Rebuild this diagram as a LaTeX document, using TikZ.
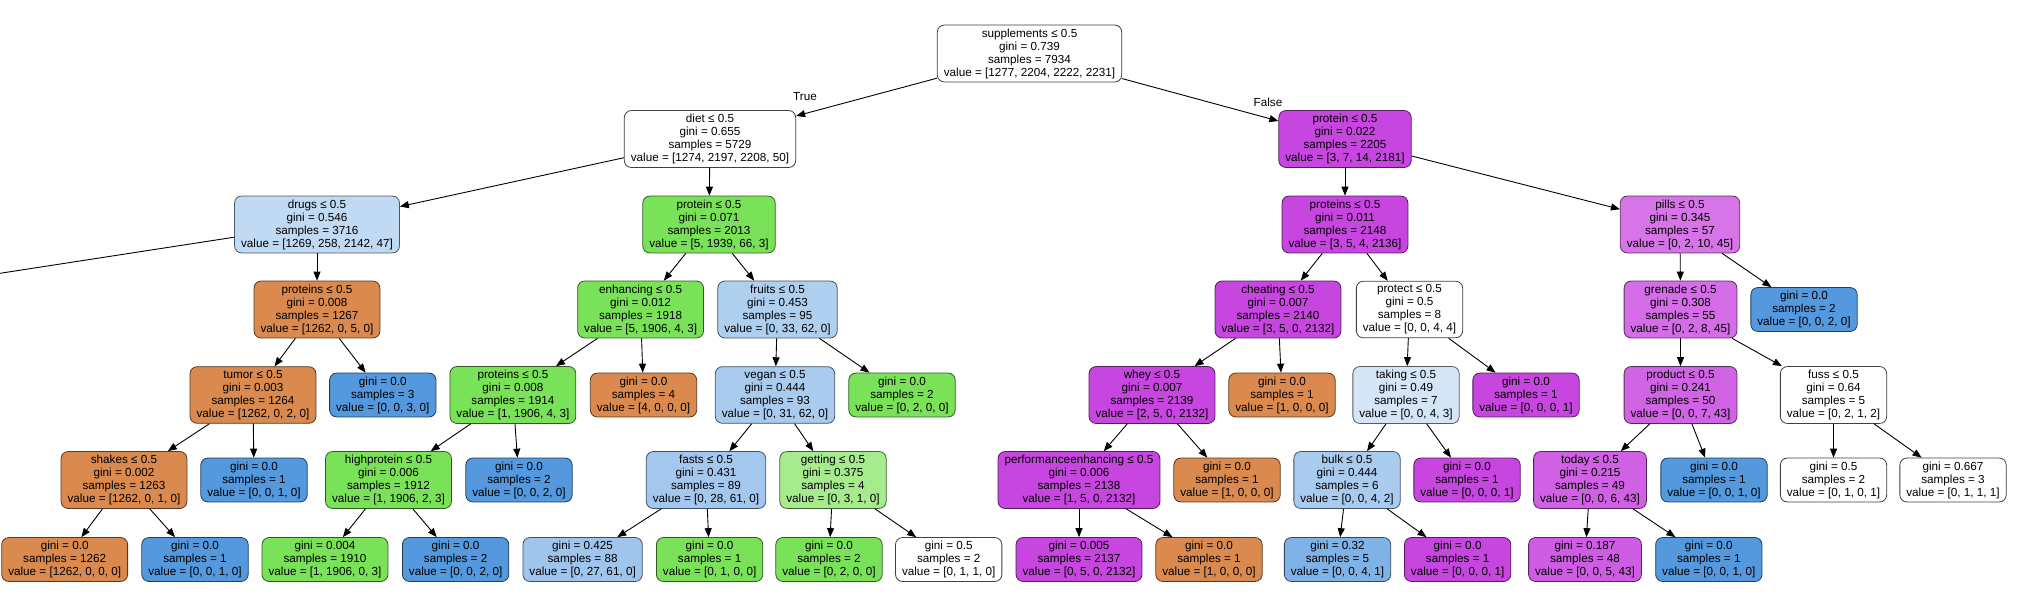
\documentclass[tikz,border=0pt]{standalone}
\usepackage{fontspec}
\setmainfont{Liberation Sans}
\usetikzlibrary{arrows.meta}
\definecolor{cor}{RGB}{218,138,78}
\definecolor{cgr}{RGB}{122,226,88}
\definecolor{cbl}{RGB}{84,152,222}
\definecolor{cpu}{RGB}{200,70,224}
\begin{document}
\begin{tikzpicture}[x=1pt,y=-1pt,
  tn/.style={line width=0.8pt, rounded corners=7pt, align=center,
    inner xsep=6.5pt, inner ysep=3.5pt, font=\fontsize{11.7}{13}\selectfont},
  fc/.style={tn, fill=#1, draw=#1!40!black},
  wh/.style={tn, fill=white, draw=black!75},
  og/.style={fc=cor},
  gr/.style={fc=cgr},
  bl/.style={fc=cbl},
  pu/.style={fc=cpu},
  edge/.style={line width=0.9pt, -{Triangle[length=9pt,width=7pt]}},
  lab/.style={font=\fontsize{11.7}{13}\selectfont, inner sep=0pt}]
\useasboundingbox (0,0) rectangle (2036,610);
% level 0
\node[wh] (n0) at (1029.5,53.5) {supplements ≤ 0.5\\gini = 0.739\\samples = 7934\\value = [1277, 2204, 2222, 2231]};
% level 1
\node[wh] (diet) at (710,139) {diet ≤ 0.5\\gini = 0.655\\samples = 5729\\value = [1274, 2197, 2208, 50]};
\node[pu] (pro1) at (1345,139) {protein ≤ 0.5\\gini = 0.022\\samples = 2205\\value = [3, 7, 14, 2181]};
% level 2
\node[fc=cbl!36!white] (drugs) at (317,224.5) {drugs ≤ 0.5\\gini = 0.546\\samples = 3716\\value = [1269, 258, 2142, 47]};
\node[gr] (protG) at (709,224.5) {protein ≤ 0.5\\gini = 0.071\\samples = 2013\\value = [5, 1939, 66, 3]};
\node[pu] (prots) at (1345,224.5) {proteins ≤ 0.5\\gini = 0.011\\samples = 2148\\value = [3, 5, 4, 2136]};
\node[fc=cpu!75!white] (pills) at (1680,224.5) {pills ≤ 0.5\\gini = 0.345\\samples = 57\\value = [0, 2, 10, 45]};
\coordinate (offleft) at (0,273.3);
% level 3
\node[og] (protsO) at (317,309.5) {proteins ≤ 0.5\\gini = 0.008\\samples = 1267\\value = [1262, 0, 5, 0]};
\node[gr] (enh) at (640.6,309.5) {enhancing ≤ 0.5\\gini = 0.012\\samples = 1918\\value = [5, 1906, 4, 3]};
\node[fc=cbl!47!white] (fruits) at (777.5,309.5) {fruits ≤ 0.5\\gini = 0.453\\samples = 95\\value = [0, 33, 62, 0]};
\node[pu] (cheat) at (1278,309.5) {cheating ≤ 0.5\\gini = 0.007\\samples = 2140\\value = [3, 5, 0, 2132]};
\node[wh] (protect) at (1409.5,309.5) {protect ≤ 0.5\\gini = 0.5\\samples = 8\\value = [0, 0, 4, 4]};
\node[fc=cpu!79!white] (grenade) at (1680.5,309.5) {grenade ≤ 0.5\\gini = 0.308\\samples = 55\\value = [0, 2, 8, 45]};
\node[bl] (leafA) at (1804,309.5) {gini = 0.0\\samples = 2\\value = [0, 0, 2, 0]};
% level 4
\node[og] (tumor) at (253,395) {tumor ≤ 0.5\\gini = 0.003\\samples = 1264\\value = [1262, 0, 2, 0]};
\node[bl] (leafB) at (382.8,395) {gini = 0.0\\samples = 3\\value = [0, 0, 3, 0]};
\node[gr] (protsG) at (512.9,395) {proteins ≤ 0.5\\gini = 0.008\\samples = 1914\\value = [1, 1906, 4, 3]};
\node[og] (leafC) at (643.5,395) {gini = 0.0\\samples = 4\\value = [4, 0, 0, 0]};
\node[fc=cbl!50!white] (vegan) at (775,395) {vegan ≤ 0.5\\gini = 0.444\\samples = 93\\value = [0, 31, 62, 0]};
\node[gr] (leafD) at (902,395) {gini = 0.0\\samples = 2\\value = [0, 2, 0, 0]};
\node[pu] (whey) at (1152,395) {whey ≤ 0.5\\gini = 0.007\\samples = 2139\\value = [2, 5, 0, 2132]};
\node[og] (leafE) at (1282,395) {gini = 0.0\\samples = 1\\value = [1, 0, 0, 0]};
\node[fc=cbl!25!white] (taking) at (1406,395) {taking ≤ 0.5\\gini = 0.49\\samples = 7\\value = [0, 0, 4, 3]};
\node[pu] (leafF) at (1526,395) {gini = 0.0\\samples = 1\\value = [0, 0, 0, 1]};
\node[fc=cpu!84!white] (product) at (1680.5,395) {product ≤ 0.5\\gini = 0.241\\samples = 50\\value = [0, 0, 7, 43]};
\node[wh] (fuss) at (1833.5,395) {fuss ≤ 0.5\\gini = 0.64\\samples = 5\\value = [0, 2, 1, 2]};
% level 5
\node[og] (shakes) at (124,480) {shakes ≤ 0.5\\gini = 0.002\\samples = 1263\\value = [1262, 0, 1, 0]};
\node[bl] (leafG) at (254,480) {gini = 0.0\\samples = 1\\value = [0, 0, 1, 0]};
\node[gr] (highp) at (388.5,480) {highprotein ≤ 0.5\\gini = 0.006\\samples = 1912\\value = [1, 1906, 2, 3]};
\node[bl] (leafH) at (519,480) {gini = 0.0\\samples = 2\\value = [0, 0, 2, 0]};
\node[fc=cbl!54!white] (fasts) at (706,480) {fasts ≤ 0.5\\gini = 0.431\\samples = 89\\value = [0, 28, 61, 0]};
\node[fc=cgr!67!white] (getting) at (833,480) {getting ≤ 0.5\\gini = 0.375\\samples = 4\\value = [0, 3, 1, 0]};
\node[pu] (perf) at (1079,480) {performanceenhancing ≤ 0.5\\gini = 0.006\\samples = 2138\\value = [1, 5, 0, 2132]};
\node[og] (leafI) at (1227,480) {gini = 0.0\\samples = 1\\value = [1, 0, 0, 0]};
\node[fc=cbl!50!white] (bulk) at (1347,480) {bulk ≤ 0.5\\gini = 0.444\\samples = 6\\value = [0, 0, 4, 2]};
\node[pu] (leafJ) at (1467,480) {gini = 0.0\\samples = 1\\value = [0, 0, 0, 1]};
\node[fc=cpu!86!white] (today) at (1590,480) {today ≤ 0.5\\gini = 0.215\\samples = 49\\value = [0, 0, 6, 43]};
\node[bl] (leafK) at (1714,480) {gini = 0.0\\samples = 1\\value = [0, 0, 1, 0]};
\node[wh] (leafL) at (1833.5,480) {gini = 0.5\\samples = 2\\value = [0, 1, 0, 1]};
\node[wh] (leafM) at (1953,480) {gini = 0.667\\samples = 3\\value = [0, 1, 1, 1]};
% level 6
\node[og] (b1) at (64.7,559.5) {gini = 0.0\\samples = 1262\\value = [1262, 0, 0, 0]};
\node[bl] (b2) at (195,559.5) {gini = 0.0\\samples = 1\\value = [0, 0, 1, 0]};
\node[gr] (b3) at (325,559.5) {gini = 0.004\\samples = 1910\\value = [1, 1906, 0, 3]};
\node[bl] (b4) at (455.6,559.5) {gini = 0.0\\samples = 2\\value = [0, 0, 2, 0]};
\node[fc=cbl!56!white] (b5) at (582.6,559.5) {gini = 0.425\\samples = 88\\value = [0, 27, 61, 0]};
\node[gr] (b6) at (709.6,559.5) {gini = 0.0\\samples = 1\\value = [0, 1, 0, 0]};
\node[gr] (b7) at (829,559.5) {gini = 0.0\\samples = 2\\value = [0, 2, 0, 0]};
\node[wh] (b8) at (948.7,559.5) {gini = 0.5\\samples = 2\\value = [0, 1, 1, 0]};
\node[pu] (b9) at (1079,559.5) {gini = 0.005\\samples = 2137\\value = [0, 5, 0, 2132]};
\node[og] (b10) at (1209,559.5) {gini = 0.0\\samples = 1\\value = [1, 0, 0, 0]};
\node[fc=cbl!75!white] (b11) at (1337.5,559.5) {gini = 0.32\\samples = 5\\value = [0, 0, 4, 1]};
\node[pu] (b12) at (1457.6,559.5) {gini = 0.0\\samples = 1\\value = [0, 0, 0, 1]};
\node[fc=cpu!88!white] (b13) at (1585,559.5) {gini = 0.187\\samples = 48\\value = [0, 0, 5, 43]};
\node[bl] (b14) at (1708.8,559.5) {gini = 0.0\\samples = 1\\value = [0, 0, 1, 0]};
% labels
\node[lab] (tlab) at (805,97) {True};
\node[lab] (flab) at (1268,102) {False};
% edges
\draw[edge] (n0) -- (diet);
\draw[edge] (n0) -- (pro1);
\draw[edge] (diet) -- (drugs);
\draw[edge] (diet) -- (protG);
\draw[edge] (pro1) -- (prots);
\draw[edge] (pro1) -- (pills);
\draw[line width=0.9pt] (drugs) -- (offleft);
\draw[edge] (drugs) -- (protsO);
\draw[edge] (protG) -- (enh);
\draw[edge] (protG) -- (fruits);
\draw[edge] (prots) -- (cheat);
\draw[edge] (prots) -- (protect);
\draw[edge] (pills) -- (grenade);
\draw[edge] (pills) -- (leafA);
\draw[edge] (protsO) -- (tumor);
\draw[edge] (protsO) -- (leafB);
\draw[edge] (enh) -- (protsG);
\draw[edge] (enh) -- (leafC);
\draw[edge] (fruits) -- (vegan);
\draw[edge] (fruits) -- (leafD);
\draw[edge] (cheat) -- (whey);
\draw[edge] (cheat) -- (leafE);
\draw[edge] (protect) -- (taking);
\draw[edge] (protect) -- (leafF);
\draw[edge] (grenade) -- (product);
\draw[edge] (grenade) -- (fuss);
\draw[edge] (tumor) -- (shakes);
\draw[edge] (tumor) -- (leafG);
\draw[edge] (protsG) -- (highp);
\draw[edge] (protsG) -- (leafH);
\draw[edge] (vegan) -- (fasts);
\draw[edge] (vegan) -- (getting);
\draw[edge] (whey) -- (perf);
\draw[edge] (whey) -- (leafI);
\draw[edge] (taking) -- (bulk);
\draw[edge] (taking) -- (leafJ);
\draw[edge] (product) -- (today);
\draw[edge] (product) -- (leafK);
\draw[edge] (fuss) -- (leafL);
\draw[edge] (fuss) -- (leafM);
\draw[edge] (shakes) -- (b1);
\draw[edge] (shakes) -- (b2);
\draw[edge] (highp) -- (b3);
\draw[edge] (highp) -- (b4);
\draw[edge] (fasts) -- (b5);
\draw[edge] (fasts) -- (b6);
\draw[edge] (getting) -- (b7);
\draw[edge] (getting) -- (b8);
\draw[edge] (perf) -- (b9);
\draw[edge] (perf) -- (b10);
\draw[edge] (bulk) -- (b11);
\draw[edge] (bulk) -- (b12);
\draw[edge] (today) -- (b13);
\draw[edge] (today) -- (b14);
\end{tikzpicture}
\end{document}
